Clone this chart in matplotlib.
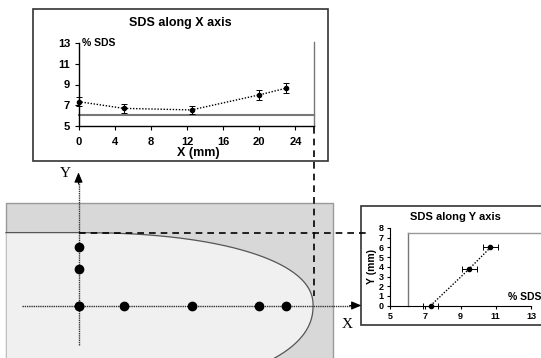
import numpy as np
import matplotlib
matplotlib.use("Agg")
import matplotlib.pyplot as plt
from matplotlib.patches import Rectangle, Polygon

plt.rcParams['font.family'] = ['Liberation Sans', 'DejaVu Sans']

# ---------------- data ----------------
X_MM = [0, 5, 12.5, 20, 23]            # positions along X (mm)
SDS_X = [7.35, 6.7, 6.55, 8.0, 8.65]   # % SDS along X
SDS_X_ERR = [0.4, 0.45, 0.4, 0.45, 0.45]

Y_MM = [0, 3.8, 6.0]                   # positions along Y (mm)
SDS_Y = [7.3, 9.5, 10.7]               # % SDS along Y
SDS_Y_ERR = [0.42, 0.44, 0.44]

X_TICKS = [0, 4, 8, 12, 16, 20, 24]
X_YTICKS = [5, 7, 9, 11, 13]
Y_XTICKS = [5, 7, 9, 11, 13]
Y_YTICKS = [0, 1, 2, 3, 4, 5, 6, 7, 8]

BASE_SDS = 6.05      # horizontal reference in X chart / vertical in Y chart
EDGE_X = 26.05       # sample edge along X (mm)
EDGE_Y = 7.5         # sample edge along Y (mm)

# ---------------- figure ----------------
W, H = 541, 358
fig = plt.figure(figsize=(W / 100, H / 100), dpi=100)
fig.patch.set_facecolor('white')

# background schematic axes in mm coordinates
X0_PX, SX = 78.5, 9.04
Y0_PX, SY = 305.5, 9.72
bg = fig.add_axes([0, 0, 1, 1])
bg.set_xlim(-X0_PX / SX, (W - X0_PX) / SX)
bg.set_ylim(-(H - Y0_PX) / SY, Y0_PX / SY)
bg.axis('off')

def fig_rect(x1, y1, x2, y2, **kw):
    return Rectangle((x1 / W, 1 - y2 / H), (x2 - x1) / W, (y2 - y1) / H,
                     transform=fig.transFigure, **kw)

# inset boxes
bg.add_patch(fig_rect(33, 9, 328, 161, fc='white', ec='#333333', lw=1.2, zorder=1))
bg.add_patch(fig_rect(361, 206, 560, 325, fc='white', ec='#333333', lw=1.2, zorder=1))

# sample schematic
ybot = bg.get_ylim()[0]
rect_left = (6 - X0_PX) / SX
rect_right = (333 - X0_PX) / SX
rect_top = (Y0_PX - 203) / SY
bg.add_patch(Rectangle((rect_left, ybot - 1), rect_right - rect_left, rect_top - ybot + 1,
                       fc='#d8d8d8', ec='#9a9a9a', lw=1, zorder=1))

n_exp, a_half = 2.2, 25.95
yy = np.linspace(EDGE_Y, ybot - 0.5, 300)
bb = np.where(yy >= 0, EDGE_Y, 9.0)
xx = a_half * np.clip(1 - np.abs(yy / bb) ** n_exp, 0, 1) ** (1 / n_exp)
poly = np.vstack([[rect_left + 0.06, EDGE_Y], np.column_stack([xx, yy]),
                  [rect_left + 0.06, ybot - 0.5]])
bg.add_patch(Polygon(poly, closed=True, fc='#f0f0f0', ec='none', zorder=2))
bg.plot(np.r_[rect_left, xx], np.r_[EDGE_Y, yy], color='#555555', lw=0.9, zorder=3)

# dotted axes with arrows
bg.plot([-6.3, 30.5], [0, 0], color='#333333', lw=1, ls=(0, (1, 0.6)), zorder=4)
bg.annotate('', xy=(31.3, 0), xytext=(30.0, 0),
            arrowprops=dict(arrowstyle='-|>,head_length=0.6,head_width=0.25',
                            color='black', lw=0.8, shrinkA=0, shrinkB=0), zorder=5)
bg.plot([0, 0], [-4.1, 12.8], color='#333333', lw=1, ls=(0, (1, 0.6)), zorder=4)
bg.annotate('', xy=(0, 13.7), xytext=(0, 12.5),
            arrowprops=dict(arrowstyle='-|>,head_length=0.6,head_width=0.25',
                            color='black', lw=0.8, shrinkA=0, shrinkB=0), zorder=5)
bg.text(-1.4, 13.6, 'Y', family='Liberation Serif', fontsize=11, ha='center', va='center', zorder=5)
bg.text(29.7, -2.0, 'X', family='Liberation Serif', fontsize=11, ha='center', va='center', zorder=5)

# sampling points
bg.plot(X_MM, np.zeros(len(X_MM)), 'o', color='black', ms=6, zorder=6)
bg.plot(np.zeros(len(Y_MM)), Y_MM, 'o', color='black', ms=6, zorder=6)

# dashed connectors
bg.plot([EDGE_X, EDGE_X], [(Y0_PX - 127) / SY, 1.0], color='black', lw=1.2,
        ls=(0, (4, 3)), zorder=7)
bg.plot([0, (370 - X0_PX) / SX], [EDGE_Y, EDGE_Y], color='black', lw=1.2,
        ls=(0, (4, 3)), zorder=7)

bold = dict(fontweight='bold')

# ---------------- top chart: SDS along X ----------------
ax1 = fig.add_axes([X0_PX / W, 1 - 126 / H, (314 - X0_PX) / W, 83 / H])
ax1.set_facecolor('none')
ax1.set_xlim(0, EDGE_X)
ax1.set_ylim(5, 13)
for s in ['top', 'right']:
    ax1.spines[s].set_visible(False)
for s in ['left', 'bottom']:
    ax1.spines[s].set_linewidth(1)
ax1.set_xticks(X_TICKS)
ax1.set_yticks(X_YTICKS)
ax1.tick_params(direction='out', length=3, width=0.8, labelsize=8, pad=3)
ax1.tick_params(axis='x', pad=5)
for lab in ax1.get_xticklabels() + ax1.get_yticklabels():
    lab.set_fontweight('bold')
ax1.plot([0, EDGE_X], [BASE_SDS, BASE_SDS], color='#777777', lw=1.5, clip_on=False)
ax1.plot([EDGE_X, EDGE_X], [5, 13.1], color='#777777', lw=1, clip_on=False)
ax1.errorbar(X_MM, SDS_X, yerr=SDS_X_ERR, fmt='o', ms=3, color='black',
             ecolor='black', elinewidth=0.7, capsize=2.5, capthick=0.7, clip_on=False)
ax1.plot(X_MM, SDS_X, color='black', lw=1, ls=(0, (1, 1.2)), clip_on=False)
ax1.text(0.35, 13, '% SDS', fontsize=7.5, ha='left', va='center', **bold)
fig.text(198 / W, 1 - 153 / H, 'X (mm)', fontsize=9, ha='center', va='center', **bold)
fig.text(180 / W, 1 - 23 / H, 'SDS along X axis', fontsize=9, ha='center', va='center', **bold)

# ---------------- right chart: SDS along Y ----------------
ax2 = fig.add_axes([390 / W, 1 - 305.7 / H, 141 / W, 77.7 / H])
ax2.set_facecolor('none')
ax2.set_xlim(5, 13)
ax2.set_ylim(0, 8)
for s in ['top', 'right']:
    ax2.spines[s].set_visible(False)
ax2.set_xticks(Y_XTICKS)
ax2.set_yticks(Y_YTICKS)
ax2.tick_params(direction='out', length=2.5, width=0.8, labelsize=6.5, pad=2)
for lab in ax2.get_xticklabels() + ax2.get_yticklabels():
    lab.set_fontweight('bold')
ax2.plot([BASE_SDS - 0.05, BASE_SDS - 0.05], [0, EDGE_Y], color='#777777', lw=1, clip_on=False)
ax2.plot([BASE_SDS - 0.05, 14], [EDGE_Y, EDGE_Y], color='#999999', lw=1, clip_on=False)
ax2.errorbar(SDS_Y, Y_MM, xerr=SDS_Y_ERR, fmt='o', ms=3, color='black',
             ecolor='black', elinewidth=0.7, capsize=2.5, capthick=0.7, clip_on=False)
ax2.plot(SDS_Y, Y_MM, color='black', lw=1, ls=(0, (1, 1.2)), clip_on=False)
ax2.text(11.7, 0.9, '% SDS', fontsize=7.5, ha='left', va='center', **bold)
ax2.set_ylabel('Y (mm)', fontsize=7.5, labelpad=1, **bold)
fig.text(455 / W, 1 - 217 / H, 'SDS along Y axis', fontsize=8, ha='center', va='center', **bold)

fig.savefig('out.png', dpi=100)
